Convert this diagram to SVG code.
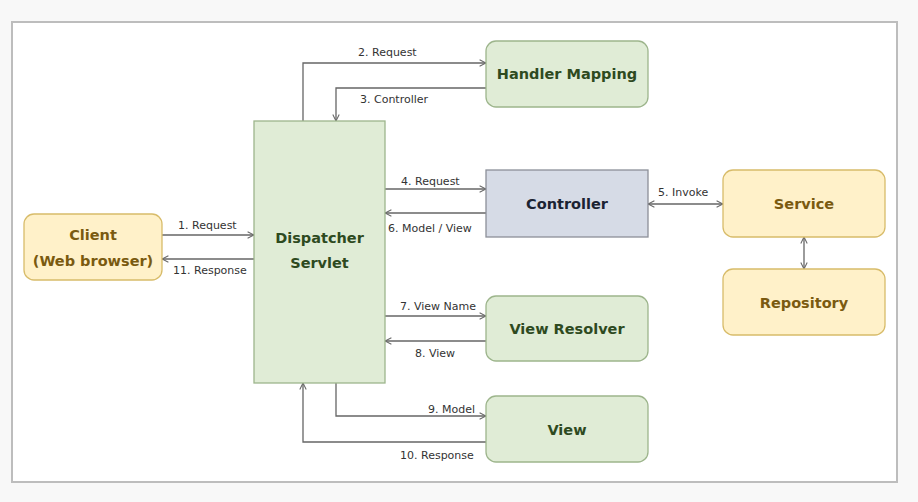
<svg xmlns="http://www.w3.org/2000/svg" width="918" height="502" viewBox="0 0 918 502">
<style>
.lbl{font-family:"DejaVu Sans",Verdana,sans-serif;font-size:11px;fill:#333}
.nt{font-family:"DejaVu Sans",Verdana,sans-serif;font-size:14.5px;font-weight:bold;text-anchor:middle}
.g rect{fill:#e0ecd6;stroke:#9db58c;stroke-width:1.3}
.g text{fill:#2e4a1f}
.y rect{fill:#fff1c9;stroke:#d8bc6a;stroke-width:1.3}
.y text{fill:#7a5a10}
.c rect{fill:#d6dbe6;stroke:#8c9099;stroke-width:1.3}
.c text{fill:#1b2333}
.ln{fill:none;stroke:#666;stroke-width:1.3}
</style>
<defs>
<marker id="a" viewBox="0 0 10 10" refX="9" refY="5" markerWidth="8" markerHeight="8" orient="auto-start-reverse" markerUnits="userSpaceOnUse">
<path d="M1,1 L9,5 L1,9" fill="none" stroke="#666" stroke-width="1.3"/>
</marker>
</defs>
<rect x="0" y="0" width="918" height="502" fill="#f8f8f8"/>
<rect x="12" y="22" width="885" height="460" fill="#fff" stroke="#bdbdbd" stroke-width="2"/>
<g id="connectors">
<path class="ln" d="M303,121 V63 H486" marker-end="url(#a)"/>
<path class="ln" d="M486,88 H336 V121" marker-end="url(#a)"/>
<path class="ln" d="M162,235 H254" marker-end="url(#a)"/>
<path class="ln" d="M254,259 H162" marker-end="url(#a)"/>
<path class="ln" d="M385,189 H486" marker-end="url(#a)"/>
<path class="ln" d="M486,213 H385" marker-end="url(#a)"/>
<path class="ln" d="M648,204 H723" marker-start="url(#a)" marker-end="url(#a)"/>
<path class="ln" d="M804,237 V269" marker-start="url(#a)" marker-end="url(#a)"/>
<path class="ln" d="M385,316 H486" marker-end="url(#a)"/>
<path class="ln" d="M486,341 H385" marker-end="url(#a)"/>
<path class="ln" d="M336,383 V416 H486" marker-end="url(#a)"/>
<path class="ln" d="M486,442 H303 V383" marker-end="url(#a)"/>
<text class="lbl" x="358" y="56">2. Request</text>
<text class="lbl" x="360" y="103">3. Controller</text>
<text class="lbl" x="178" y="229">1. Request</text>
<text class="lbl" x="173" y="274">11. Response</text>
<text class="lbl" x="401" y="185">4. Request</text>
<text class="lbl" x="388" y="232">6. Model / View</text>
<text class="lbl" x="658" y="196">5. Invoke</text>
<text class="lbl" x="400" y="310">7. View Name</text>
<text class="lbl" x="415" y="357">8. View</text>
<text class="lbl" x="428" y="413">9. Model</text>
<text class="lbl" x="400" y="459">10. Response</text>
</g>
<g id="handler-mapping" class="g"><rect x="486" y="41" width="162" height="66" rx="10"/><text class="nt" x="567" y="79">Handler Mapping</text></g>
<g id="dispatcher" class="g"><rect x="254" y="121" width="131" height="262"/><text class="nt" x="319.5" y="243">Dispatcher</text><text class="nt" x="319.5" y="268">Servlet</text></g>
<g id="client" class="y"><rect x="24" y="214" width="138" height="66" rx="10"/><text class="nt" x="93" y="240">Client</text><text class="nt" x="93" y="266">(Web browser)</text></g>
<g id="controller" class="c"><rect x="486" y="170" width="162" height="67"/><text class="nt" x="567" y="209">Controller</text></g>
<g id="service" class="y"><rect x="723" y="170" width="162" height="67" rx="10"/><text class="nt" x="804" y="209">Service</text></g>
<g id="repository" class="y"><rect x="723" y="269" width="162" height="66" rx="10"/><text class="nt" x="804" y="308">Repository</text></g>
<g id="view-resolver" class="g"><rect x="486" y="296" width="162" height="65" rx="10"/><text class="nt" x="567" y="334">View Resolver</text></g>
<g id="view" class="g"><rect x="486" y="396" width="162" height="66" rx="10"/><text class="nt" x="567" y="435">View</text></g>
</svg>
